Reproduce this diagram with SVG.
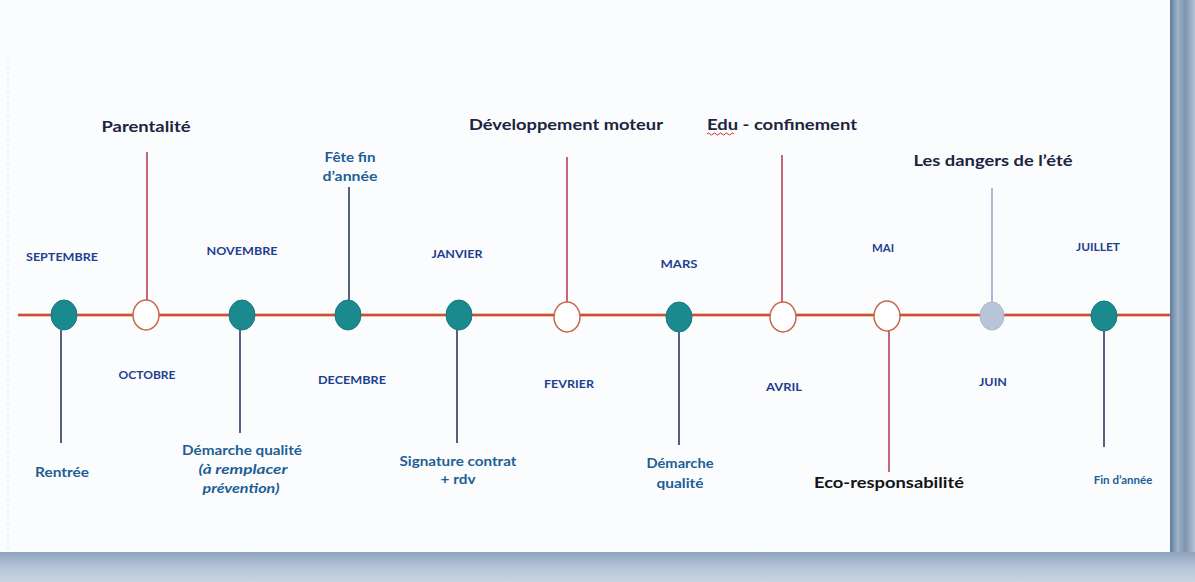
<svg xmlns="http://www.w3.org/2000/svg" width="1195" height="582" viewBox="0 0 1195 582">
<defs>
<style>
.month{font-family:Lato,"Liberation Sans",sans-serif;font-weight:bold;font-size:12px;fill:#1f3f8f;text-anchor:middle}
.topic{font-family:Lato,"Liberation Sans",sans-serif;font-weight:bold;font-size:16px;fill:#1c2440;text-anchor:middle}
.event{font-family:Lato,"Liberation Sans",sans-serif;font-weight:bold;font-size:12.5px;fill:#1d5f95;text-anchor:middle}
.ital{font-style:italic}
.dot{fill:#1b8a8f;stroke:#17777c;stroke-width:1}
.ring{fill:#ffffff;stroke:#c8674e;stroke-width:1.5}
.pale{fill:#b9c4d8;stroke:#aab6cc;stroke-width:1}
.up{stroke:#b3344e;stroke-width:1.5;fill:none}
.down{stroke:#1f2c55;stroke-width:1.5;fill:none}
.grey{stroke:#8393bb;stroke-width:1.3;fill:none}
</style>
<linearGradient id="edgeR" x1="0" y1="0" x2="1" y2="0">
<stop offset="0" stop-color="#5f7c9c"/>
<stop offset="0.3" stop-color="#9fb2c8"/>
<stop offset="0.6" stop-color="#7d95b0"/>
<stop offset="1" stop-color="#b3c2d4"/>
</linearGradient>
<linearGradient id="edgeB" x1="0" y1="0" x2="0" y2="1">
<stop offset="0" stop-color="#8ea3bd"/>
<stop offset="0.5" stop-color="#b5c4d6"/>
<stop offset="1" stop-color="#c8d4e2"/>
</linearGradient>
</defs>
<rect x="0" y="0" width="1195" height="582" fill="#fbfcfe"/>
<rect x="1170" y="0" width="25" height="582" fill="url(#edgeR)"/>
<rect x="0" y="552" width="1195" height="30" fill="url(#edgeB)"/>
<line x1="8" y1="60" x2="8" y2="550" stroke="#e2e6ec" stroke-width="1" stroke-dasharray="3 3"/>

<g id="connectors">
<line x1="18" y1="315" x2="1170" y2="315" stroke="#e08a4a" stroke-width="3.2"/>
<line x1="18" y1="315" x2="1170" y2="315" stroke="#c23c3a" stroke-width="1.4"/>
<line class="down" x1="61" y1="330" x2="61" y2="443"/>
<line class="up" x1="147" y1="152" x2="147" y2="300"/>
<line class="down" x1="240" y1="330" x2="240" y2="433"/>
<line class="down" x1="349" y1="187" x2="349" y2="300"/>
<line class="down" x1="457" y1="330" x2="457" y2="443"/>
<line class="up" x1="567" y1="157" x2="567" y2="302"/>
<line class="down" x1="679" y1="332" x2="679" y2="445"/>
<line class="up" x1="782" y1="155" x2="782" y2="302"/>
<line class="up" x1="889" y1="331" x2="889" y2="472"/>
<line class="grey" x1="992" y1="188" x2="992" y2="302"/>
<line class="down" x1="1104" y1="331" x2="1104" y2="447"/>
</g>

<g id="septembre">
<ellipse class="dot" cx="64" cy="315" rx="13" ry="15"/>
<text class="month" x="62" y="261" textLength="72" lengthAdjust="spacingAndGlyphs">SEPTEMBRE</text>
<text class="event" x="62" y="477" textLength="54" lengthAdjust="spacingAndGlyphs">Rentrée</text>
</g>
<g id="octobre">
<ellipse class="ring" cx="146" cy="315" rx="13" ry="15"/>
<text class="month" x="147" y="379" textLength="57" lengthAdjust="spacingAndGlyphs">OCTOBRE</text>
<text class="topic" x="146" y="132" textLength="89" lengthAdjust="spacingAndGlyphs">Parentalité</text>
</g>
<g id="novembre">
<ellipse class="dot" cx="242" cy="315" rx="13" ry="15"/>
<text class="month" x="242" y="255" textLength="71" lengthAdjust="spacingAndGlyphs">NOVEMBRE</text>
<text class="event" x="242" y="455" textLength="120" lengthAdjust="spacingAndGlyphs">Démarche qualité</text>
<text class="event ital" x="243" y="474" textLength="89" lengthAdjust="spacingAndGlyphs">(à remplacer</text>
<text class="event ital" x="241" y="493" textLength="77" lengthAdjust="spacingAndGlyphs">prévention)</text>
</g>
<g id="decembre">
<ellipse class="dot" cx="348" cy="315" rx="13" ry="15"/>
<text class="month" x="352" y="384" textLength="68" lengthAdjust="spacingAndGlyphs">DECEMBRE</text>
<text class="event" x="350" y="162" textLength="51" lengthAdjust="spacingAndGlyphs">Fête fin</text>
<text class="event" x="350" y="181" textLength="55" lengthAdjust="spacingAndGlyphs">d’année</text>
</g>
<g id="janvier">
<ellipse class="dot" cx="459" cy="315" rx="13" ry="15"/>
<text class="month" x="457" y="258" textLength="51" lengthAdjust="spacingAndGlyphs">JANVIER</text>
<text class="event" x="458" y="466" textLength="117" lengthAdjust="spacingAndGlyphs">Signature contrat</text>
<text class="event" x="458" y="484" textLength="35" lengthAdjust="spacingAndGlyphs">+ rdv</text>
</g>
<g id="fevrier">
<ellipse class="ring" cx="567" cy="317" rx="13" ry="15"/>
<text class="month" x="569" y="388" textLength="50" lengthAdjust="spacingAndGlyphs">FEVRIER</text>
<text class="topic" x="566" y="130" textLength="194" lengthAdjust="spacingAndGlyphs">Développement moteur</text>
</g>
<g id="mars">
<ellipse class="dot" cx="679" cy="317" rx="13" ry="15"/>
<text class="month" x="679" y="268" textLength="37" lengthAdjust="spacingAndGlyphs">MARS</text>
<text class="event" x="680" y="468" textLength="67" lengthAdjust="spacingAndGlyphs">Démarche</text>
<text class="event" x="680" y="488" textLength="47" lengthAdjust="spacingAndGlyphs">qualité</text>
</g>
<g id="avril">
<ellipse class="ring" cx="783" cy="317" rx="13" ry="15"/>
<text class="month" x="784" y="391" textLength="36" lengthAdjust="spacingAndGlyphs">AVRIL</text>
<text class="topic" x="782" y="130" textLength="150" lengthAdjust="spacingAndGlyphs">Edu - confinement</text>
<path d="M707 134 q1.5 -2 3 0 t3 0 t3 0 t3 0 t3 0 t3 0 t3 0 t3 0 t3 0" fill="none" stroke="#d0302e" stroke-width="1"/>
</g>
<g id="mai">
<ellipse class="ring" cx="887" cy="316" rx="13" ry="15"/>
<text class="month" x="883" y="252" textLength="22" lengthAdjust="spacingAndGlyphs">MAI</text>
<text class="topic" x="889" y="488" textLength="150" lengthAdjust="spacingAndGlyphs" style="fill:#141414">Eco-responsabilité</text>
</g>
<g id="juin">
<ellipse class="pale" cx="992" cy="316" rx="12" ry="14"/>
<text class="month" x="993" y="386" textLength="28" lengthAdjust="spacingAndGlyphs">JUIN</text>
<text class="topic" x="993" y="166" textLength="159" lengthAdjust="spacingAndGlyphs">Les dangers de l’été</text>
</g>
<g id="juillet">
<ellipse class="dot" cx="1104" cy="316" rx="13" ry="15"/>
<text class="month" x="1098" y="251" textLength="44" lengthAdjust="spacingAndGlyphs">JUILLET</text>
<text class="event" x="1123" y="484" style="font-size:11.5px">Fin d’année</text>
</g>
</svg>
